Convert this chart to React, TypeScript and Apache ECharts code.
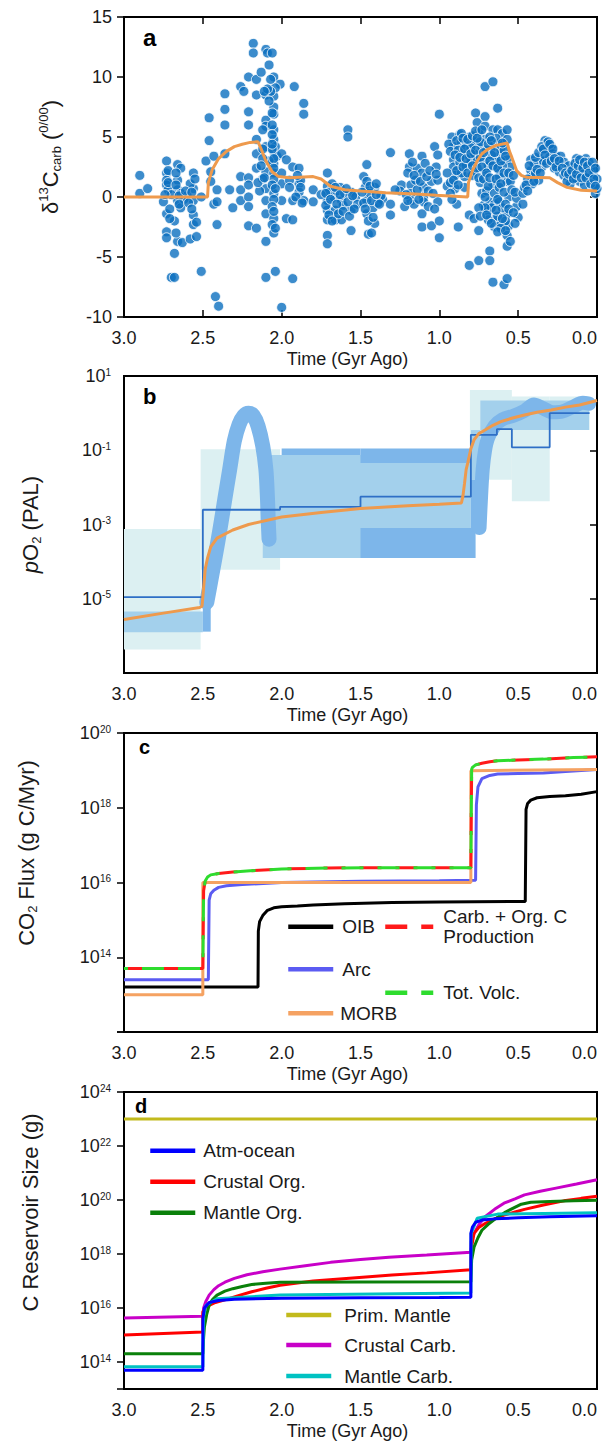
import React, { useEffect, useRef } from "react";
import * as echarts from "echarts";

const FONT = '"Liberation Sans", Arial, Helvetica, sans-serif';
const INK = "#1a1a1a";

// ---------------- Panel a : δ13C carb ----------------
const carbIsotopePoints: [number, number][] = [
  [2.90,1.8],[2.90,0.3],[2.85,0.7],[2.75,-0.4],[2.73,3.0],[2.73,2.0],[2.73,1.4],[2.73,1.0],[2.72,0.6],[2.73,-1.4],[2.73,-2.9],[2.73,-3.4],[2.70,-6.7],[2.68,-6.7],[2.68,-4.7],[2.68,-2.0],[2.66,2.7],[2.66,1.4],[2.66,0.6],[2.66,-0.3],[2.66,-3.7],[2.64,2.4],[2.64,0.3],[2.64,-0.9],[2.63,-3.8],[2.58,-3.5],[2.56,2.0],[2.56,0.7],[2.56,-0.3],[2.56,-1.5],[2.56,-2.3],[2.54,-2.1],[2.54,-3.3],[2.51,-6.2],[2.51,0.0],[2.60,0.1],[2.62,-0.2],[2.70,0.2],[2.58,1.1],[2.55,1.5],
  [2.72,2.2],[2.72,1.2],[2.71,-1.0],[2.71,-1.8],[2.74,0.2],[2.67,2.0],[2.67,1.0],[2.65,0.1],[2.65,-0.6],[2.67,-3.0],[2.61,0.5],[2.59,-0.5],[2.57,-1.0],[2.57,0.4],
  [2.48,3.0],[2.46,4.7],[2.46,6.6],[2.45,2.1],[2.45,1.3],[2.43,-0.6],[2.41,-0.4],[2.41,0.6],[2.41,-2.3],[2.42,-8.3],[2.40,-9.1],[2.43,3.4],[2.36,8.6],[2.36,7.3],[2.36,6.0],[2.36,3.6],[2.33,0.6],[2.31,-0.9],[2.26,9.2],[2.24,8.8],[2.26,1.7],[2.26,0.6],[2.26,-0.3],[2.21,10.0],[2.21,7.1],[2.21,6.0],[2.21,1.6],[2.21,1.0],[2.21,0.0],[2.21,-0.8],[2.21,-2.4],[2.18,12.8],[2.18,12.0],[2.16,9.8],[2.16,8.5],[2.16,4.8],[2.16,2.4],[2.16,3.6],[2.16,-2.6],[2.13,10.4],[2.10,12.3],[2.09,12.0],[2.10,8.5],[2.10,6.4],[2.10,5.9],[2.10,4.2],[2.10,2.1],[2.10,0.7],[2.10,-0.3],[2.10,-1.4],[2.10,-3.7],[2.10,-6.7],[2.08,11.0],[2.06,12.0],[2.05,10.0],[2.05,8.4],[2.05,7.5],[2.05,6.9],[2.05,5.6],[2.05,4.8],[2.05,3.8],[2.05,2.8],[2.05,2.0],[2.05,0.3],[2.05,-1.8],[2.05,-3.0],[2.04,-6.2],[2.04,4.2],[2.03,3.4],[2.01,9.4],[2.04,9.1],[2.00,-9.2],[2.00,1.1],[2.00,-0.3],[2.00,3.6],[2.00,2.0],[1.97,3.1],[1.97,-1.8],[2.07,9.8],[2.07,8.8],[2.06,4.0],[2.08,3.0],[2.12,4.0],[2.12,1.5],[2.14,0.5],
  [2.06,7.0],[2.06,6.0],[2.06,5.2],[2.06,4.4],[2.05,3.2],[2.05,2.4],[2.05,1.5],[2.06,1.0],[2.04,0.7],[2.05,-0.2],[2.06,-0.8],[2.05,-1.2],[2.06,-2.3],[2.04,-2.6],[2.08,8.0],[2.09,9.0],[2.11,8.8],[2.12,5.6],[2.12,3.2],[2.13,2.6],[2.15,1.2],[2.11,1.6],
  [1.92,9.2],[1.93,-6.8],[1.93,-1.9],[1.93,2.5],[1.93,-0.3],[1.89,2.4],[1.89,1.1],[1.89,0.4],[1.88,1.4],[1.86,7.8],[1.86,6.9],[1.86,-0.3],[1.80,0.6],[1.80,-0.4],[1.71,2.0],[1.71,0.9],[1.71,-0.3],[1.71,-1.1],[1.71,-1.9],[1.71,-3.2],[1.71,-3.9],[1.68,1.1],[1.67,0.0],[1.66,-1.1],[1.66,-1.9],[1.63,0.8],[1.62,-0.3],[1.62,-1.9],[1.61,-0.7],[1.58,5.6],[1.58,5.0],[1.56,0.4],[1.56,-1.1],[1.56,-2.8],[1.53,0.0],[1.52,-0.6],[1.70,0.4],[1.65,0.5],[1.60,0.3],[1.75,0.2],
  [1.95,1.4],[1.95,0.8],[1.91,0.0],[1.90,1.8],[1.88,0.8],[1.87,-0.5],[1.72,0.3],[1.72,-0.7],[1.70,-1.5],[1.69,-0.2],[1.68,-2.0],[1.66,0.8],[1.65,-0.6],[1.64,-1.4],[1.63,0.2],[1.61,-1.2],[1.59,0.7],[1.58,-0.4],[1.57,-1.6],[1.55,0.1],[1.54,-1.0],
  [1.48,1.7],[1.47,0.8],[1.46,2.7],[1.46,-0.3],[1.46,-1.4],[1.45,-3.1],[1.43,-3.0],[1.41,0.8],[1.41,-2.2],[1.42,-0.9],[1.36,-0.2],[1.37,0.1],[1.31,3.7],[1.31,-0.6],[1.31,-1.5],[1.24,1.0],[1.25,0.5],[1.22,-0.8],[1.19,3.6],[1.19,2.5],[1.20,2.0],[1.18,1.0],[1.18,0.3],[1.18,-0.3],[1.15,1.4],[1.14,2.4],[1.11,-2.5],[1.11,-1.4],[1.11,3.4],[1.11,2.0],[1.10,0.8],[1.10,0.0],[1.10,-0.4],[1.05,1.3],[1.05,-2.4],[1.03,4.2],[1.01,3.5],[1.02,2.5],[1.01,1.4],[1.01,-0.4],[1.00,-2.0],[1.00,-3.4],[1.00,6.9],[1.44,0.3],[1.39,-0.5],[1.28,0.6],[1.16,-0.6],[1.07,0.5],
  [1.49,0.4],[1.48,-0.5],[1.47,-1.0],[1.46,1.3],[1.45,-2.0],[1.44,0.9],[1.43,-0.3],[1.42,-1.7],[1.40,0.2],[1.38,-0.6],[1.40,1.1],[1.21,0.2],[1.20,-0.3],[1.17,2.9],[1.16,1.8],[1.14,0.6],[1.13,-0.2],[1.12,1.3],[1.09,2.8],[1.08,1.7],[1.07,-0.8],[1.06,2.2],[1.04,0.3],[1.03,-1.0],[1.02,1.9],
  [0.92,5.0],[0.91,4.2],[0.91,3.1],[0.91,2.5],[0.90,1.8],[0.90,0.7],[0.89,-0.6],[0.88,-2.5],[0.87,5.2],[0.86,4.5],[0.85,3.6],[0.84,1.7],[0.84,0.8],[0.81,5.0],[0.81,3.4],[0.81,-1.5],[0.81,-5.7],[0.78,4.5],[0.78,3.6],[0.78,2.2],[0.78,-1.8],[0.77,7.0],[0.76,6.2],[0.75,5.4],[0.75,-2.8],[0.75,-5.3],[0.73,4.2],[0.73,0.3],[0.72,-0.7],[0.71,9.2],[0.71,6.7],[0.71,5.9],[0.71,4.8],[0.71,3.1],[0.71,2.1],[0.68,-0.4],[0.68,-4.5],[0.68,-5.3],[0.66,9.6],[0.66,5.6],[0.66,4.2],[0.66,1.0],[0.65,-0.6],[0.65,-1.8],[0.65,-2.5],[0.66,-7.1],[0.63,7.4],[0.63,5.6],[0.62,4.5],[0.62,3.4],[0.62,2.2],[0.62,1.7],[0.62,-0.4],[0.62,-2.4],[0.59,-7.3],[0.60,5.3],[0.57,5.6],[0.57,4.8],[0.57,3.1],[0.57,1.3],[0.57,-1.4],[0.56,-2.4],[0.57,-3.2],[0.57,-4.1],[0.57,-6.8],[0.56,0.0],[0.55,2.5],[0.55,1.3],[0.51,-0.8],[0.51,-0.1],[0.50,-1.7],
  [0.94,4.4],[0.93,3.8],[0.95,2.0],[0.95,0.9],[0.93,1.2],[0.89,4.7],[0.88,3.9],[0.87,2.9],[0.86,2.0],[0.83,4.3],[0.83,2.6],[0.80,4.1],[0.80,2.9],[0.79,1.8],[0.76,3.0],[0.74,4.6],[0.74,3.3],[0.74,1.2],[0.70,3.9],[0.70,0.5],[0.69,2.6],[0.69,-1.2],[0.67,3.5],[0.67,-0.9],[0.64,4.9],[0.64,2.9],[0.63,-1.6],[0.61,4.0],[0.60,2.6],[0.60,-0.9],[0.59,3.9],[0.58,-2.0],[0.71,-0.9],[0.69,-1.9],[0.61,-2.6],[0.63,-2.9],
  [0.93,0.3],[0.92,-0.2],[0.91,1.4],[0.90,3.5],[0.89,2.2],[0.88,1.0],[0.87,3.3],[0.86,5.3],[0.85,4.9],[0.85,2.5],[0.84,4.0],[0.83,3.2],[0.82,4.8],[0.82,2.0],[0.80,3.6],[0.79,5.1],[0.79,2.6],[0.77,5.5],[0.77,3.9],[0.76,4.9],[0.76,2.4],[0.75,1.6],[0.75,-0.9],[0.74,-1.6],[0.73,5.6],[0.73,2.5],[0.72,3.7],[0.72,1.5],[0.71,0.0],[0.70,2.0],[0.70,-1.5],[0.69,4.4],[0.69,0.9],[0.68,5.0],[0.68,3.0],[0.68,1.6],[0.67,-2.2],[0.67,4.7],[0.66,2.6],[0.65,3.7],[0.65,0.3],[0.64,1.5],[0.64,-1.1],[0.63,2.4],[0.63,-0.2],[0.62,0.8],[0.61,3.0],[0.61,1.1],[0.60,-1.8],[0.60,4.5],[0.59,2.0],[0.59,0.4],[0.58,3.4],[0.58,-0.6],[0.58,-2.8],[0.56,2.0],[0.56,-1.0],[0.55,-3.7],[0.54,0.6],[0.53,-1.3],[0.52,0.4],[0.52,-2.2],[0.53,1.8],
  [0.47,0.3],[0.47,-0.6],[0.46,0.8],[0.42,3.1],[0.42,2.2],[0.41,1.7],[0.41,1.1],[0.39,2.0],[0.37,1.4],[0.36,3.1],[0.35,2.5],[0.33,4.7],[0.32,4.5],[0.31,3.9],[0.29,4.2],[0.28,3.6],[0.26,3.4],[0.25,2.8],[0.23,3.4],[0.19,2.2],[0.17,1.7],[0.17,1.1],[0.15,2.5],[0.13,3.2],[0.12,2.0],[0.11,1.3],[0.10,2.5],[0.07,3.2],[0.06,2.0],[0.05,1.4],[0.04,2.5],[0.03,1.8],[0.02,1.0],[0.01,0.3],[0.44,1.5],[0.40,2.8],[0.34,3.0],[0.30,3.3],[0.27,2.4],[0.24,2.1],[0.21,2.9],[0.18,2.6],[0.14,1.6],[0.09,1.9],[0.08,1.0],[0.05,2.9],[0.02,2.2],[0.00,1.5],[0.00,0.7],
  [0.45,1.0],[0.44,0.5],[0.43,2.6],[0.40,1.3],[0.39,3.3],[0.38,2.3],[0.37,3.7],[0.36,2.0],[0.35,4.2],[0.34,4.0],[0.33,3.5],[0.32,2.8],[0.31,4.6],[0.30,4.4],[0.29,3.0],[0.28,4.0],[0.27,3.2],[0.26,2.5],[0.24,3.0],[0.22,2.4],[0.21,1.8],[0.20,2.0],[0.19,1.3],[0.18,1.9],[0.16,2.2],[0.15,1.5],[0.14,2.8],[0.13,1.9],[0.12,2.6],[0.11,3.1],[0.10,1.6],[0.09,2.4],[0.08,2.9],[0.07,1.6],[0.06,2.6],[0.05,2.0],[0.04,1.1],[0.03,2.9],[0.02,1.5],[0.01,2.4],[0.01,0.9]
];
const carbModelTime = [3.0,2.47,2.465,2.44,2.40,2.35,2.30,2.25,2.20,2.15,2.13,2.10,2.06,2.02,1.95,1.80,1.75,1.69,1.60,1.50,1.34,1.15,1.02,0.82,0.815,0.79,0.76,0.73,0.69,0.64,0.57,0.555,0.54,0.51,0.48,0.45,0.30,0.25,0.19,0.10,0.0];
const carbModelValue = [0,0,1.2,2.3,3.2,3.8,4.2,4.4,4.55,4.6,4.0,3.0,2.1,1.7,1.6,1.7,1.5,0.9,0.6,0.5,0.35,0.25,0.15,0.0,1.2,2.2,3.0,3.6,4.0,4.3,4.5,3.8,3.3,2.2,1.8,1.65,1.6,1.2,0.8,0.56,0.5];

// ---------------- Panel b : pO2 ----------------
// boxes: [time start, time end, low pO2, high pO2]
const o2LightBoxes = [
  [3.0, 2.514, 4.3e-7, 7.6e-4],
  [2.514, 2.01, 6e-5, 0.107],
  [0.806, 0.54, 1.6e-2, 4.2],
  [0.54, 0.30, 4.2e-3, 2.8],
  [0.30, 0.047, 0.35, 2.8],
];
const o2MidBoxes = [
  [3.0, 2.5, 1.26e-6, 4.5e-6],
  [2.12, 0.8, 1.26e-4, 7.4e-2],
  [0.8, 0.74, 1.6e-2, 0.35],
  [0.74, 0.05, 0.35, 2.2],
];
const o2DarkBoxes = [
  [2.5, 2.45, 1.3e-6, 8.5e-6],
  [2.0, 1.5, 7.4e-2, 0.112],
  [1.5, 0.8, 4.5e-2, 0.112],
  [1.5, 0.77, 1.26e-4, 8e-4],
  [0.8, 0.735, 6.3e-4, 1.6e-2],
];
const o2LoopTime = [2.475,2.45,2.42,2.39,2.36,2.33,2.30,2.27,2.24,2.21,2.18,2.15,2.12,2.10,2.09,2.085,2.08];
const o2LoopValue = [8e-6,3e-5,1.5e-4,8e-4,5e-3,3e-2,0.18,0.5,0.85,1.0,0.85,0.45,0.13,3e-2,5e-3,1.2e-3,4e-4];
const o2RiseTime = [0.745,0.735,0.725,0.71,0.69,0.65,0.60,0.53,0.46,0.40,0.35,0.28,0.22,0.15,0.09,0.05];
const o2RiseValue = [8e-4,6e-3,3e-2,0.1,0.22,0.45,0.68,0.85,1.15,1.7,1.4,1.05,1.1,1.5,1.9,1.8];
const o2StepTime = [3.0, 2.5, 2.01, 1.5, 0.8, 0.635, 0.54, 0.30, 0.047];
const o2StepValue = [1.1e-5, 2.5e-3, 3e-3, 5.6e-3, 0.26, 0.37, 0.12, 1.0];
const o2ModelTime = [3.0,2.75,2.52,2.505,2.495,2.485,2.47,2.45,2.41,2.31,2.21,2.0,1.75,1.5,1.2,1.0,0.86,0.85,0.84,0.83,0.82,0.80,0.78,0.75,0.71,0.66,0.61,0.53,0.46,0.38,0.29,0.2,0.11,0.0];
const o2ModelValue = [2.75e-6,4.1e-6,5.8e-6,6.3e-6,2e-5,6.3e-5,1.26e-4,2.5e-4,4.3e-4,7.1e-4,1e-3,1.6e-3,2.1e-3,2.7e-3,3.2e-3,3.5e-3,3.8e-3,6e-3,1.3e-2,3e-2,4.5e-2,0.11,0.19,0.28,0.35,0.47,0.59,0.75,0.89,1.05,1.22,1.45,1.66,2.19];

// ---------------- Panel c : CO2 flux ----------------
const oibTime = [3.0,2.15,2.148,2.14,2.12,2.09,2.05,2.0,1.9,1.8,1.6,1.3,1.0,0.46,0.455,0.45,0.44,0.42,0.38,0.3,0.2,0.1,0.0];
const oibValue = [1.6e13,1.6e13,5e14,9e14,1.3e15,1.8e15,2.1e15,2.25e15,2.35e15,2.5e15,2.7e15,2.9e15,3.0e15,3.1e15,3.1e15,9e17,1.3e18,1.6e18,1.85e18,2.0e18,2.1e18,2.3e18,2.7e18];
const arcTime = [3.0,2.465,2.46,2.45,2.43,2.40,2.35,2.25,2.0,1.5,1.0,0.77,0.765,0.755,0.73,0.68,0.63,0.5,0.34,0.2,0.0];
const arcValue = [2.5e13,2.5e13,3.4e15,5e15,6.2e15,7.4e15,8.2e15,8.8e15,1e16,1.08e16,1.12e16,1.15e16,1.2e18,3.6e18,6e18,7.3e18,8e18,8.3e18,8.5e18,9.3e18,1.05e19];
const morbTime = [3.0,2.5,2.5,0.8,0.8,0.0];
const morbValue = [1e13,1e13,1e16,1e16,9.8e18,1.05e19];
const prodTime = [3.0,2.5,2.495,2.485,2.47,2.45,2.40,2.31,2.2,2.0,1.7,1.32,1.0,0.8,0.795,0.79,0.77,0.73,0.68,0.63,0.5,0.34,0.15,0.0];
const prodValue = [5e13,5e13,6e15,1.1e16,1.4e16,1.6e16,1.75e16,1.9e16,2.05e16,2.3e16,2.45e16,2.5e16,2.5e16,2.5e16,1.07e19,1.2e19,1.4e19,1.55e19,1.7e19,1.8e19,1.9e19,2.0e19,2.2e19,2.3e19];
const volcTime = [3.0,2.5,2.495,2.485,2.47,2.45,2.40,2.31,2.2,2.0,1.7,1.32,1.0,0.8,0.795,0.79,0.77,0.73,0.68,0.63,0.5,0.34,0.15,0.0];
const volcValue = [5e13,5e13,6e15,1.1e16,1.4e16,1.6e16,1.75e16,1.9e16,2.05e16,2.3e16,2.45e16,2.5e16,2.5e16,2.5e16,1.07e19,1.2e19,1.4e19,1.55e19,1.7e19,1.8e19,1.9e19,2.0e19,2.2e19,2.3e19];

// ---------------- Panel d : C reservoirs ----------------
const primTime = [3.0, 0.0];
const primValue = [1e23, 1e23];
const atmTime = [3.0,2.5,2.5,2.49,2.46,2.40,2.30,2.0,1.5,1.0,0.8,0.8,0.79,0.77,0.73,0.65,0.5,0.3,0.0];
const atmValue = [4.9e13,4.9e13,4e15,1e16,1.6e16,1.9e16,2.1e16,2.3e16,2.4e16,2.45e16,2.5e16,5.8e18,1e19,1.5e19,1.8e19,2e19,2.2e19,2.4e19,2.6e19];
const crustOrgTime = [3.0,2.5,2.5,2.48,2.46,2.42,2.36,2.28,2.19,2.1,2.01,1.9,1.8,1.57,1.3,1.08,0.8,0.797,0.78,0.75,0.71,0.65,0.59,0.52,0.46,0.34,0.21,0.1,0.0];
const crustOrgValue = [1e15,1.3e15,7.2e15,1e16,1.26e16,1.6e16,2e16,2.8e16,4e16,5.4e16,7e16,8.5e16,1e17,1.26e17,1.66e17,2e17,2.6e17,1.6e18,5.8e18,9.5e18,1.35e19,2e19,2.75e19,3.6e19,4.5e19,6.5e19,9.3e19,1.15e20,1.38e20];
const mantleOrgTime = [3.0,2.5,2.495,2.49,2.475,2.46,2.44,2.41,2.36,2.31,2.25,2.19,2.1,2.01,1.5,0.8,0.795,0.78,0.755,0.73,0.69,0.655,0.58,0.48,0.42,0.3,0.15,0.0];
const mantleOrgValue = [2e14,2e14,8e14,2e15,6e15,1.26e16,2e16,3e16,4.2e16,5.2e16,6.3e16,7.4e16,8.3e16,8.9e16,9.2e16,9.3e16,6e17,1.8e18,4e18,7.6e18,1.26e19,1.8e19,3.6e19,7e19,8.3e19,8.8e19,9.3e19,9.8e19];
const crustCarbTime = [3.0,2.5,2.495,2.48,2.46,2.43,2.40,2.36,2.30,2.22,2.12,2.01,1.85,1.69,1.5,1.32,1.08,0.8,0.797,0.78,0.75,0.71,0.65,0.59,0.52,0.46,0.36,0.26,0.13,0.0];
const crustCarbValue = [4.3e15,4.9e15,1e16,1.8e16,3e16,4.8e16,6.7e16,9e16,1.25e17,1.7e17,2.2e17,2.75e17,3.7e17,4.9e17,6.2e17,7.6e17,9.1e17,1.15e18,3e18,5.8e18,1.2e19,2.4e19,4.5e19,7.6e19,1.1e20,1.55e20,2.1e20,2.75e20,3.9e20,5.6e20];
const mantleCarbTime = [3.0,2.5,2.495,2.48,2.41,2.01,0.8,0.798,0.76,0.63,0.0];
const mantleCarbValue = [6.6e13,6.6e13,5e15,1.26e16,2.2e16,3e16,3.6e16,5.8e18,2.1e19,3e19,3.4e19];

// ---------------- helpers ----------------
const pair = (ts: number[], vs: number[]) => ts.map((t, i) => [t, vs[i]]);
const stepPairs = (ts: number[], vs: number[]) => {
  const out: number[][] = [];
  for (let i = 0; i < vs.length; i++) {
    out.push([ts[i], vs[i]]);
    out.push([ts[i + 1], vs[i]]);
  }
  return out;
};

const GRID_LEFT = 124;
const GRID_RIGHT = 9;
const grids = [
  { top: 17, height: 300 },
  { top: 376, height: 297 },
  { top: 733, height: 299 },
  { top: 1092, height: 297 },
];

const powRich = {
  b: { fontSize: 18, fontFamily: FONT, color: INK, lineHeight: 20 },
  s: { fontSize: 10, fontFamily: FONT, color: INK, lineHeight: 10, verticalAlign: "top", padding: [1, 0, 0, 0] },
};
const powLabel = (shift: number, hideAtOrBelow: number) => (v: number) => {
  const e = Math.round(Math.log10(v)) + shift;
  if (e <= hideAtOrBelow) return "";
  return `{b|10}{s|${e}}`;
};

const nameRich = {
  m: { fontSize: 22, fontFamily: FONT, color: INK, lineHeight: 26 },
  i: { fontSize: 22, fontFamily: FONT, color: INK, lineHeight: 26, fontStyle: "italic" },
  sup: { fontSize: 13, fontFamily: FONT, color: INK, lineHeight: 13, verticalAlign: "top" },
  sub: { fontSize: 13, fontFamily: FONT, color: INK, lineHeight: 13, verticalAlign: "bottom" },
};

const axisLineStyle = { show: true, onZero: false, lineStyle: { color: "#000", width: 2 } };
const outTick = { show: true, inside: false, length: 7, lineStyle: { color: "#000", width: 1.5 } };
const inTick = { show: true, inside: true, length: 7, lineStyle: { color: "#000", width: 1.5 } };

const timeAxis = (gridIndex: number, withTicks: boolean) => ({
  type: "value",
  gridIndex,
  min: 0,
  max: 3,
  interval: 0.5,
  inverse: true,
  position: "bottom",
  axisLine: axisLineStyle,
  axisTick: { ...inTick, show: withTicks },
  axisLabel: {
    fontSize: 18, fontFamily: FONT, color: INK, margin: 12,
    alignMinLabel: "right",
    formatter: (v: number) => v.toFixed(1),
  },
  splitLine: { show: false },
  name: "Time (Gyr Ago)",
  nameLocation: "middle",
  nameGap: 33,
  nameTextStyle: { fontSize: 18, fontFamily: FONT, color: INK, padding: [0, 26, 0, 0] },
});

const rectSeries = (boxes: number[][], color: string, xi: number, yi: number) => ({
  type: "custom",
  xAxisIndex: xi,
  yAxisIndex: yi,
  data: boxes,
  encode: { x: [0, 1], y: [2, 3] },
  clip: true,
  silent: true,
  renderItem: (params: any, api: any) => {
    const a = api.coord([api.value(0), api.value(2)]);
    const b = api.coord([api.value(1), api.value(3)]);
    return {
      type: "rect",
      shape: {
        x: Math.min(a[0], b[0]),
        y: Math.min(a[1], b[1]),
        width: Math.abs(b[0] - a[0]),
        height: Math.abs(b[1] - a[1]),
      },
      style: { fill: color },
    };
  },
});

const lineSeries = (name: string, data: any[], color: string, xi: number, yi: number, width = 3, extra: any = {}) => ({
  name,
  type: "line",
  xAxisIndex: xi,
  yAxisIndex: yi,
  data,
  symbol: "none",
  showSymbol: false,
  silent: true,
  clip: true,
  lineStyle: { color, width, ...(extra.lineStyle || {}) },
  itemStyle: { color },
  ...(extra.rest || {}),
});

const legendItem = (name: string, left: number, centerY: number, itemWidth: number, gap: number) => ({
  data: [name],
  left,
  top: centerY - 10,
  padding: 0,
  itemWidth,
  itemHeight: 10,
  selectedMode: false,
  itemStyle: { opacity: 0, borderWidth: 0 },
  lineStyle: { width: 4.5 },
  textStyle: { fontSize: 19, fontFamily: FONT, color: INK, lineHeight: 20, padding: [0, 0, 0, gap] },
});

const PROD_NAME = "Carb. + Org. C Production";

export default function App() {
  const ref = useRef<HTMLDivElement>(null);

  useEffect(() => {
    document.body.style.margin = "0";
    if (!ref.current) return;
    const chart = echarts.init(ref.current, undefined, { renderer: "svg" });

    const option: any = {
      animation: false,
      backgroundColor: "#ffffff",
      textStyle: { fontFamily: FONT },
      grid: grids.map((g) => ({
        left: GRID_LEFT,
        right: GRID_RIGHT,
        top: g.top,
        height: g.height,
        containLabel: false,
        outerBoundsMode: "none",
        show: true,
        borderColor: "#000",
        borderWidth: 2,
        backgroundColor: "transparent",
      })),
      xAxis: [
        timeAxis(0, true),
        {
          type: "value", gridIndex: 0, min: 0, max: 3, interval: 0.5, inverse: true, position: "top",
          axisLine: axisLineStyle, axisTick: inTick,
          axisLabel: { show: false }, splitLine: { show: false },
        },
        timeAxis(1, false),
        timeAxis(2, false),
        timeAxis(3, false),
      ],
      yAxis: [
        {
          type: "value", gridIndex: 0, min: -10, max: 15, interval: 5, position: "left",
          axisLine: axisLineStyle, axisTick: outTick,
          axisLabel: { fontSize: 18, fontFamily: FONT, color: INK, margin: 12 },
          splitLine: { show: false },
          name: "{m|δ}{sup|13}{m|C}{sub|carb}{m| (}{sup|0/00}{m|)}",
          nameLocation: "middle", nameGap: 61,
          nameTextStyle: { rich: nameRich, padding: [0, 0, 0, 20] },
        },
        {
          type: "value", gridIndex: 0, min: -10, max: 15, interval: 5, position: "right",
          axisLine: axisLineStyle, axisTick: inTick,
          axisLabel: { show: false }, splitLine: { show: false },
        },
        {
          type: "log", logBase: 10, gridIndex: 1, min: 1e-7, max: 10, position: "left",
          axisLine: axisLineStyle, axisTick: { show: false }, axisLabel: { show: false }, splitLine: { show: false },
          name: "{i|p}{m|O}{sub|2}{m| (PAL)}",
          nameLocation: "middle", nameGap: 81,
          nameTextStyle: { rich: nameRich },
        },
        {
          type: "log", logBase: 100, gridIndex: 1, min: 1e-6, max: 100, position: "left", offset: 0,
          axisLine: { show: false }, axisTick: outTick,
          axisLabel: { formatter: powLabel(-1, -7), rich: powRich, margin: 13 },
          splitLine: { show: false },
        },
        {
          type: "log", logBase: 100, gridIndex: 2, min: 1e12, max: 1e20, position: "left",
          axisLine: axisLineStyle, axisTick: outTick,
          axisLabel: { formatter: powLabel(0, 12), rich: powRich, margin: 13 },
          splitLine: { show: false },
          name: "{m|CO}{sub|2}{m| Flux (g C/Myr)}",
          nameLocation: "middle", nameGap: 85,
          nameTextStyle: { rich: nameRich, padding: [0, 0, 0, 59] },
        },
        {
          type: "log", logBase: 100, gridIndex: 3, min: 1e13, max: 1e24, position: "left",
          axisLine: axisLineStyle, axisTick: outTick,
          axisLabel: { formatter: powLabel(0, 13), rich: powRich, margin: 13 },
          splitLine: { show: false },
          name: "C Reservoir Size (g)",
          nameLocation: "middle", nameGap: 81,
          nameTextStyle: { fontSize: 22, fontFamily: FONT, color: INK, lineHeight: 26, padding: [0, 0, 0, 56] },
        },
      ],
      legend: [
        legendItem("OIB", 286, 926.7, 45, 4),
        {
          ...legendItem(PROD_NAME, 383, 926.7, 48, 5),
          top: 926.7 - 33,
          formatter: () => "Carb. + Org. C\nProduction",
          textStyle: { fontSize: 19, fontFamily: FONT, color: INK, lineHeight: 20, padding: [26, 0, 0, 5] },
        },
        legendItem("Arc", 286, 969.3, 45, 4),
        { ...legendItem("Tot. Volc.", 383, 992.7, 48, 5), lineStyle: { width: 4.5, dashOffset: 0 } },
        legendItem("MORB", 286, 1013.3, 45, 2),
        legendItem("Atm-ocean", 148, 1150.7, 45, 3),
        legendItem("Crustal Org.", 148, 1181.7, 45, 3),
        legendItem("Mantle Org.", 148, 1212.7, 45, 3),
        legendItem("Prim. Mantle", 284, 1315, 45, 8),
        legendItem("Crustal Carb.", 284, 1345, 45, 8),
        legendItem("Mantle Carb.", 284, 1376, 45, 8),
      ],
      graphic: [
        { type: "text", x: 143, y: 37.7, silent: true, style: { text: "a", font: `bold 24px ${FONT}`, fill: "#000", align: "left", verticalAlign: "middle" } },
        { type: "text", x: 143, y: 396.4, silent: true, style: { text: "b", font: `bold 22px ${FONT}`, fill: "#000", align: "left", verticalAlign: "middle" } },
        { type: "text", x: 139, y: 747, silent: true, style: { text: "c", font: `bold 20px ${FONT}`, fill: "#000", align: "left", verticalAlign: "middle" } },
        { type: "text", x: 135, y: 1106, silent: true, style: { text: "d", font: `bold 20px ${FONT}`, fill: "#000", align: "left", verticalAlign: "middle" } },
      ],
      series: [
        // panel a
        {
          name: "δ13C carb data",
          type: "scatter",
          xAxisIndex: 0,
          yAxisIndex: 0,
          data: carbIsotopePoints,
          symbol: "circle",
          symbolSize: 10,
          silent: true,
          itemStyle: { color: "#0B6FBF", borderColor: "#ffffff", borderWidth: 1 },
        },
        lineSeries("δ13C model", pair(carbModelTime, carbModelValue), "#EE9A4D", 0, 0, 3),
        // panel b
        rectSeries(o2LightBoxes, "#DCF0F2", 2, 2),
        rectSeries(o2MidBoxes, "#A3D0EC", 2, 2),
        rectSeries(o2DarkBoxes, "#7DB6EA", 2, 2),
        lineSeries("pO2 envelope loop", pair(o2LoopTime, o2LoopValue), "#7DB6EA", 2, 2, 15, { lineStyle: { cap: "round", join: "round" }, rest: { smooth: 0.3 } }),
        lineSeries("pO2 envelope rise", pair(o2RiseTime, o2RiseValue), "#7DB6EA", 2, 2, 14, { lineStyle: { cap: "round", join: "round" }, rest: { smooth: 0.3 } }),
        lineSeries("pO2 proxy steps", stepPairs(o2StepTime, o2StepValue), "#2E6FC6", 2, 2, 1.8),
        lineSeries("pO2 model", pair(o2ModelTime, o2ModelValue), "#EE9A4D", 2, 2, 3),
        // panel c
        lineSeries("OIB", pair(oibTime, oibValue), "#000000", 3, 4, 3),
        lineSeries("Arc", pair(arcTime, arcValue), "#5B5BF2", 3, 4, 3),
        lineSeries("MORB", pair(morbTime, morbValue), "#F5A262", 3, 4, 3),
        lineSeries(PROD_NAME, pair(prodTime, prodValue), "#FF1A1A", 3, 4, 3, { lineStyle: { type: [22, 14] } }),
        lineSeries("Tot. Volc.", pair(volcTime, volcValue), "#2EDC2E", 3, 4, 3, { lineStyle: { type: [22, 14], dashOffset: 18 } }),
        // panel d
        lineSeries("Prim. Mantle", pair(primTime, primValue), "#C2BA1C", 4, 5, 3),
        lineSeries("Crustal Carb.", pair(crustCarbTime, crustCarbValue), "#C800C8", 4, 5, 3),
        lineSeries("Crustal Org.", pair(crustOrgTime, crustOrgValue), "#FF0000", 4, 5, 3),
        lineSeries("Mantle Org.", pair(mantleOrgTime, mantleOrgValue), "#0A800A", 4, 5, 3),
        lineSeries("Mantle Carb.", pair(mantleCarbTime, mantleCarbValue), "#00C2C2", 4, 5, 3),
        lineSeries("Atm-ocean", pair(atmTime, atmValue), "#0000FF", 4, 5, 3),
      ],
    };

    chart.setOption(option);
    return () => chart.dispose();
  }, []);

  return <div ref={ref} style={{ position: "absolute", left: 0, top: 0, width: 606, height: 1446 }} />;
}
